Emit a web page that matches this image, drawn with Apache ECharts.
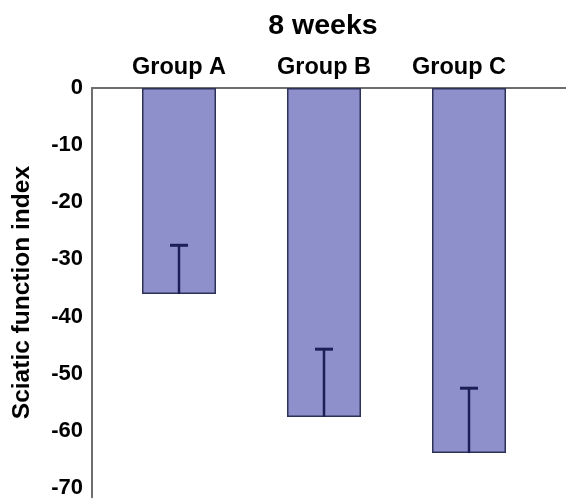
<!DOCTYPE html>
<html>
<head>
<meta charset="utf-8">
<script src="https://cdn.jsdelivr.net/npm/echarts@6/dist/echarts.min.js"></script>
<style>
  html, body { margin: 0; padding: 0; background: #ffffff; }
  #chart { width: 566px; height: 499px; }
</style>
</head>
<body>
<div id="chart"></div>
<script>
// Sciatic function index after 8 weeks, mean with one-sided error bars
const categories = ['Group A', 'Group B', 'Group C'];
const meanValues = [-35.9, -57.3, -63.6];
const errorValues = [8.5, 11.8, 11.3];
const tickValues = [0, -10, -20, -30, -40, -50, -60, -70];

const FONT = 'Liberation Sans, Arial, Helvetica, sans-serif';
const AXIS_MIN = -71.6;

// small horizontal nudges for the category names
const labelPadding = { 'Group C': [0, 20, 0, 0] };

const chart = echarts.init(document.getElementById('chart'), null, { renderer: 'canvas' });

const option = {
  backgroundColor: '#ffffff',
  animation: false,
  title: {
    text: '8 weeks',
    left: 318,
    top: 7,
    textAlign: 'center',
    textStyle: { fontFamily: FONT, fontWeight: 'bold', fontSize: 28.5, color: '#000' }
  },
  grid: [
    // bars sit in an inner grid; the outer grid carries the visible axes
    { left: 106.5, right: 24.5, top: 88, bottom: 0 },
    { left: 92, right: 0, top: 88, bottom: 0 }
  ],
  xAxis: [
    {
      type: 'category',
      gridIndex: 0,
      position: 'top',
      data: categories.map(c => labelPadding[c]
        ? { value: c, textStyle: { padding: labelPadding[c] } }
        : c),
      axisLine: { show: false },
      axisTick: { show: false },
      axisLabel: {
        margin: 8,
        fontFamily: FONT, fontWeight: 'bold', fontSize: 23.5, color: '#000'
      }
    },
    {
      type: 'value',
      gridIndex: 1,
      position: 'top',
      min: 0, max: 1,
      axisLine: { show: true, onZero: false, lineStyle: { color: '#6e6e6e', width: 2 } },
      axisTick: { show: false },
      axisLabel: { show: false },
      splitLine: { show: false }
    }
  ],
  yAxis: [
    {
      type: 'value',
      gridIndex: 0,
      min: AXIS_MIN, max: 0,
      show: false
    },
    {
      type: 'value',
      gridIndex: 1,
      min: AXIS_MIN, max: 0,
      name: 'Sciatic function index',
      nameLocation: 'middle',
      nameRotate: 90,
      nameGap: 57,
      nameTextStyle: { fontFamily: FONT, fontWeight: 'bold', fontSize: 24.5, color: '#000' },
      axisLine: { show: true, onZero: false, lineStyle: { color: '#6e6e6e', width: 2 } },
      axisTick: { show: false },
      splitLine: { show: false },
      axisLabel: {
        customValues: tickValues,
        margin: 9,
        fontFamily: FONT, fontWeight: 'bold', fontSize: 22, color: '#000',
        formatter: v => String(Math.round(v))
      }
    }
  ],
  series: [
    {
      type: 'bar',
      xAxisIndex: 0,
      yAxisIndex: 0,
      data: meanValues,
      barWidth: 74,
      itemStyle: { color: '#8e90cc', borderColor: '#2e3158', borderWidth: 1.5 },
      z: 2
    },
    {
      // error bar: stem from the bar end toward zero, with a cap
      type: 'custom',
      xAxisIndex: 0,
      yAxisIndex: 0,
      data: meanValues.map((m, i) => [i, m, m + errorValues[i]]),
      renderItem: function (params, api) {
        const base = api.coord([api.value(0), api.value(1)]);
        const tip = api.coord([api.value(0), api.value(2)]);
        const half = 9;
        return {
          type: 'group',
          children: [
            { type: 'line', shape: { x1: base[0], y1: base[1], x2: tip[0], y2: tip[1] }, style: { stroke: '#1c1f56', lineWidth: 2.5 } },
            { type: 'line', shape: { x1: tip[0] - half, y1: tip[1], x2: tip[0] + half, y2: tip[1] }, style: { stroke: '#1c1f56', lineWidth: 3 } }
          ]
        };
      },
      z: 3
    }
  ]
};

chart.setOption(option);
</script>
</body>
</html>
